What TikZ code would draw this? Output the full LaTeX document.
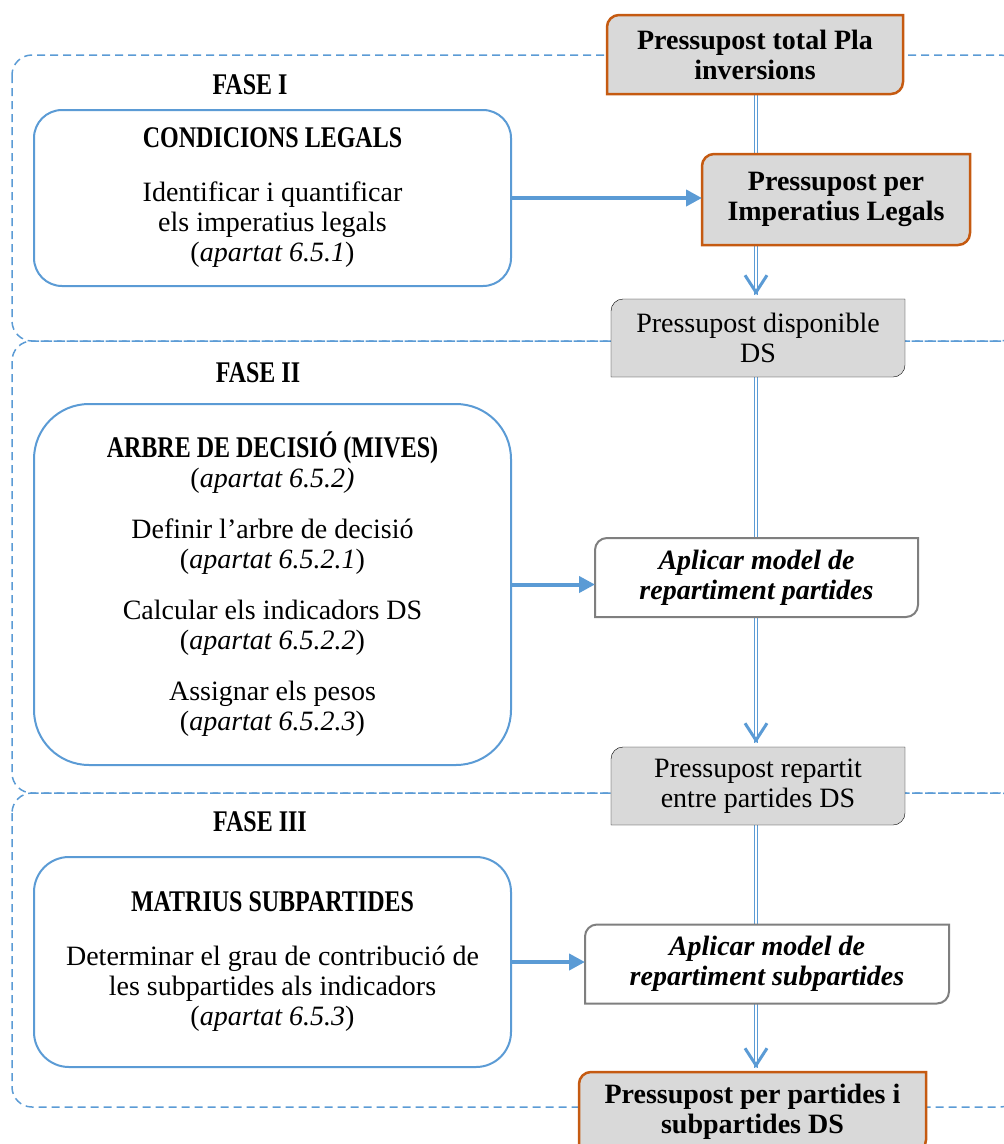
\documentclass[tikz,border=0pt]{standalone}
\usepackage{fontspec}
\setmainfont{Liberation Serif}
\usetikzlibrary{arrows.meta,backgrounds}

\definecolor{phaseblue}{HTML}{5B9BD5}
\definecolor{budgetorange}{HTML}{C55A11}
\definecolor{budgetgray}{HTML}{D9D9D9}
\definecolor{modelgray}{HTML}{7F7F7F}

\newcommand{\bodysize}{\fontsize{28}{30}\selectfont}
\newcommand{\phasetitle}[1]{{\fontsize{30}{30}\selectfont\scalebox{0.8}[1]{\bfseries #1}}}

% frame with rounded top-left and bottom-right corners
\newcommand{\diagframe}[2]{%
  \draw[#2] (#1.south west) -- ([yshift=-12pt]#1.north west)
    arc[start angle=180, end angle=90, radius=12pt] -- (#1.north east)
    -- ([yshift=12pt]#1.south east)
    arc[start angle=0, end angle=-90, radius=12pt] -- cycle;}

\begin{document}
\begin{tikzpicture}[x=1pt, y=1pt,
    every node/.style={font=\bodysize, align=center, inner sep=0pt, outer sep=0pt},
    phase/.style={draw=phaseblue, line width=1.5pt, dash pattern=on 8pt off 5pt, rounded corners=20pt},
    taskbox/.style={draw=phaseblue, line width=2pt, fill=white, minimum width=477pt},
    budget/.style={font=\bodysize\bfseries, minimum height=79pt},
    share/.style={font=\bodysize, minimum height=78pt},
    model/.style={font=\bodysize\bfseries\itshape, minimum height=79pt},
    orangeframe/.style={draw=budgetorange, line width=2.5pt, fill=budgetgray},
    grayframe/.style={fill=budgetgray},
    modelframe/.style={draw=modelgray, line width=2pt, fill=white},
    flow/.style={draw=phaseblue, double=white, line width=1.2pt, double distance=2pt},
    flowhead/.style={draw=phaseblue, line width=3pt, -{Straight Barb[length=17pt, width=22pt]}},
    feed/.style={draw=phaseblue, line width=4pt, -{Triangle[length=16pt, width=16pt]}}
]
\useasboundingbox (0,0) rectangle (1004,-1144);
\clip (0,0) rectangle (1004,-1144);

% phase titles
\node (fase1) at (250,-85)  {\phasetitle{FASE I}};
\node (fase2) at (258,-373) {\phasetitle{FASE II}};
\node (fase3) at (260,-822) {\phasetitle{FASE III}};

% left column
\node[taskbox, rounded corners=28pt, minimum height=176pt] (legal) at (272.5,-198)
    {\phasetitle{CONDICIONS LEGALS}\\[24pt]Identificar i quantificar\\els imperatius legals\\(\textit{apartat 6.5.1})};
\node[taskbox, rounded corners=55pt, minimum height=361pt] (arbre) at (272.5,-584.5)
    {\phasetitle{ARBRE DE DECISIÓ (MIVES)}\\(\textit{apartat 6.5.2)}\\[21pt]
     Definir l’arbre de decisió\\(\textit{apartat 6.5.2.1})\\[21pt]
     Calcular els indicadors DS\\(\textit{apartat 6.5.2.2})\\[21pt]
     Assignar els pesos\\(\textit{apartat 6.5.2.3})};
\node[taskbox, rounded corners=35pt, minimum height=210pt] (matrius) at (272.5,-962)
    {\phasetitle{MATRIUS SUBPARTIDES}\\[24pt]Determinar el grau de contribució de\\les subpartides als indicadors\\(\textit{apartat 6.5.3})};

% budget column
\node[budget, minimum width=296pt] (ptot) at (755,-54.5) {Pressupost total Pla\\inversions};
\node[budget, minimum width=268pt, minimum height=91pt] (pil) at (836,-199.5) {Pressupost per\\Imperatius Legals};
\node[share, minimum width=294pt] (disp) at (758,-338) {Pressupost disponible\\DS};
\node[model, minimum width=323pt] (apm) at (756.5,-577.5) {Aplicar model de\\repartiment partides};
\node[share, minimum width=294pt] (prep) at (758,-786) {Pressupost repartit\\entre partides DS};
\node[model, minimum width=364pt] (aps) at (767,-964) {Aplicar model de\\repartiment subpartides};
\node[budget, minimum width=347pt, minimum height=80pt] (pfin) at (752.5,-1112) {Pressupost per partides i\\subpartides DS};
\coordinate (spine) at (756,0);
\coordinate (tip1) at ([yshift=4pt]spine |- disp.north);
\coordinate (tip2) at ([yshift=4pt]spine |- prep.north);
\coordinate (tip3) at ([yshift=4pt]spine |- pfin.north);

\begin{scope}[on background layer]
  \clip (0,0) rectangle (1004,-1144);
  \draw[phase] (12,-55) rectangle (1020,-341);
  \draw[phase] (12,-341) rectangle (1020,-793);
  \draw[phase] (12,-793) rectangle (1020,-1107);

  \draw[flow] (spine |- ptot.south) -- (tip1);
  \draw[flowhead] ([yshift=2pt]tip1) -- (tip1);
  \draw[flow] (spine |- disp.south) -- (spine |- apm.north);
  \draw[flow] (spine |- apm.south) -- (tip2);
  \draw[flowhead] ([yshift=2pt]tip2) -- (tip2);
  \draw[flow] (spine |- prep.south) -- (spine |- aps.north);
  \draw[flow] (spine |- aps.south) -- (tip3);
  \draw[flowhead] ([yshift=2pt]tip3) -- (tip3);

  \diagframe{ptot}{orangeframe}
  \diagframe{pil}{orangeframe}
  \diagframe{disp}{grayframe}
  \diagframe{apm}{modelframe}
  \diagframe{prep}{grayframe}
  \diagframe{aps}{modelframe}
  \diagframe{pfin}{orangeframe}
\end{scope}

\draw[feed] (legal.east) -- (legal.east -| pil.west);
\draw[feed] (arbre.east) -- (arbre.east -| apm.west);
\draw[feed] (matrius.east) -- (matrius.east -| aps.west);
\end{tikzpicture}
\end{document}
